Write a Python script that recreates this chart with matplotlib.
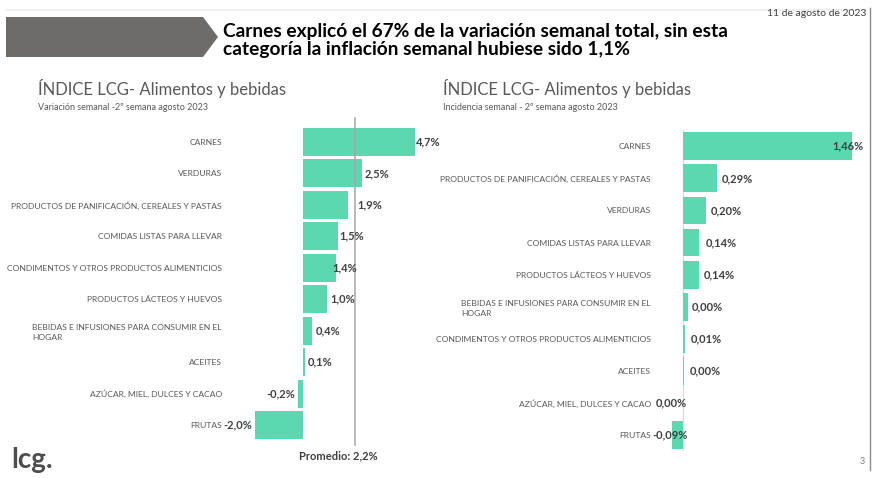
import matplotlib
matplotlib.use("Agg")
import matplotlib.pyplot as plt
from matplotlib.patches import Polygon
from matplotlib.lines import Line2D

plt.rcParams['font.family'] = ['Lato', 'DejaVu Sans']

# ---------------- data ----------------
cats_var = ['CARNES', 'VERDURAS', 'PRODUCTOS DE PANIFICACIÓN, CEREALES Y PASTAS',
            'COMIDAS LISTAS PARA LLEVAR', 'CONDIMENTOS Y OTROS PRODUCTOS ALIMENTICIOS',
            'PRODUCTOS LÁCTEOS Y HUEVOS', 'BEBIDAS E INFUSIONES PARA CONSUMIR EN EL\nHOGAR',
            'ACEITES', 'AZÚCAR, MIEL, DULCES Y CACAO', 'FRUTAS']
vals_var = [4.7, 2.5, 1.9, 1.5, 1.4, 1.0, 0.4, 0.1, -0.2, -2.0]
labels_var = ['4,7%', '2,5%', '1,9%', '1,5%', '1,4%', '1,0%', '0,4%', '0,1%', '-0,2%', '-2,0%']
promedio = 2.2

cats_inc = ['CARNES', 'PRODUCTOS DE PANIFICACIÓN, CEREALES Y PASTAS', 'VERDURAS',
            'COMIDAS LISTAS PARA LLEVAR', 'PRODUCTOS LÁCTEOS Y HUEVOS',
            'BEBIDAS E INFUSIONES PARA CONSUMIR EN EL\nHOGAR',
            'CONDIMENTOS Y OTROS PRODUCTOS ALIMENTICIOS', 'ACEITES',
            'AZÚCAR, MIEL, DULCES Y CACAO', 'FRUTAS']
vals_inc = [1.46, 0.29, 0.20, 0.14, 0.14, 0.045, 0.015, 0.004, -0.004, -0.095]
labels_inc = ['1,46%', '0,29%', '0,20%', '0,14%', '0,14%', '0,00%', '0,01%', '0,00%', '0,00%', '-0,09%']

# ---------------- style ----------------
W, H = 873, 478
BAR = '#5cd8b1'
CAT_C = '#595959'
VAL_C = '#404040'

# hand-placed data labels: (ha, dx in px from bar end)
pos_var = [('left', 1), ('left', 2), ('left', 9), ('left', 1), ('left', -4),
           ('left', 4), ('left', 4), ('left', 3), ('right', -3), ('right', -3)]
pos_inc = [('right', 12), ('left', 5), ('left', 4), ('left', 6), ('left', 4),
           ('left', 3), ('left', 6), ('left', 6), ('right', 4), ('right', 15)]

fig = plt.figure(figsize=(W / 100, H / 100), dpi=100)


def px_axes(x0, y0, x1, y1):
    # pixel box (top-left origin) -> axes
    return fig.add_axes([x0 / W, 1 - y1 / H, (x1 - x0) / W, (y1 - y0) / H])


def bar_panel(ax, cats, vals, labels, pos, zero_px, scale, x0, x1, bh, pad, zero_line=False):
    n = len(cats)
    ax.barh(range(n), vals, height=bh, color=BAR)
    ax.set_xlim(-(zero_px - x0) / scale, (x1 - zero_px) / scale)
    ax.set_ylim(n - 0.5, -0.5)
    ax.set_yticks(range(n))
    ax.set_yticklabels(cats, fontsize=6.1, color=CAT_C, ma='left', linespacing=1.45)
    ax.tick_params(axis='y', length=0, pad=pad)
    ax.set_xticks([])
    for s in ax.spines.values():
        s.set_visible(False)
    if zero_line:
        ax.axvline(0, color='#d9d9d9', lw=0.8, zorder=0)
    for i, (v, lab, (ha, dx)) in enumerate(zip(vals, labels, pos)):
        ax.annotate(lab, (v, i), xytext=(dx * 0.72, 0), textcoords='offset points',
                    ha=ha, va='center', fontsize=8, fontweight='bold', color=VAL_C)


# left panel
axL = px_axes(230, 126.3, 440, 440.7)
bar_panel(axL, cats_var, vals_var, labels_var, pos_var, 302.7, 23.8, 230, 440, 0.89, 5.8)
axL.plot([promedio, promedio], [-0.77, 9.64], color='#a6a6a6', lw=1.1, clip_on=False)
axL.text(promedio - 0.7, 9.99, 'Promedio: 2,2%', ha='center', va='center',
         fontsize=8, fontweight='bold', color=VAL_C)

# right panel
axR = px_axes(660, 130.3, 868, 451)
bar_panel(axR, cats_inc, vals_inc, labels_inc, pos_inc, 683.3, 115.3, 660, 868, 0.87, 6.5,
          zero_line=True)

# ---------------- header / decorations ----------------
deco = fig.add_axes([0, 0, 1, 1], zorder=-1)
deco.set_xlim(0, W)
deco.set_ylim(H, 0)
deco.axis('off')
deco.add_patch(Polygon([(6, 17), (203, 17), (218, 37), (203, 57), (6, 57)],
                       closed=True, color='#6e6b6b', lw=0))
deco.add_line(Line2D([6, 866], [10, 10], color='#ececec', lw=1.2))
deco.add_line(Line2D([869.5, 869.5], [8, 470], color='#8c8c8c', lw=1))

fig.text(223 / W, 1 - 31 / H, 'Carnes explicó el 67% de la variación semanal total, sin esta',
         fontsize=13.8, fontweight='bold', color='black', va='center')
fig.text(223 / W, 1 - 50 / H, 'categoría la inflación semanal hubiese sido 1,1%',
         fontsize=13.8, fontweight='bold', color='black', va='center')
fig.text(866 / W, 1 - 14 / H, '11 de agosto de 2023', fontsize=7.5, color='#404040',
         ha='right', va='center')

for x, sub in [(38, 'Variación semanal -2º semana agosto 2023'),
               (443, 'Incidencia semanal - 2º semana agosto 2023')]:
    fig.text(x / W, 1 - 89 / H, 'ÍNDICE LCG- Alimentos y bebidas', fontsize=12,
             color='#595959', va='center')
    fig.text(x / W, 1 - 107 / H, sub, fontsize=6.5, color='#595959', va='center')

fig.text(11 / W, 1 - 460 / H, 'lcg.', fontsize=20, fontweight='bold', color='#4d4d4d',
         va='center')
fig.text(860 / W, 1 - 461 / H, '3', fontsize=6.5, color='#7f7f7f', va='center')

fig.savefig('out.png', dpi=100)
